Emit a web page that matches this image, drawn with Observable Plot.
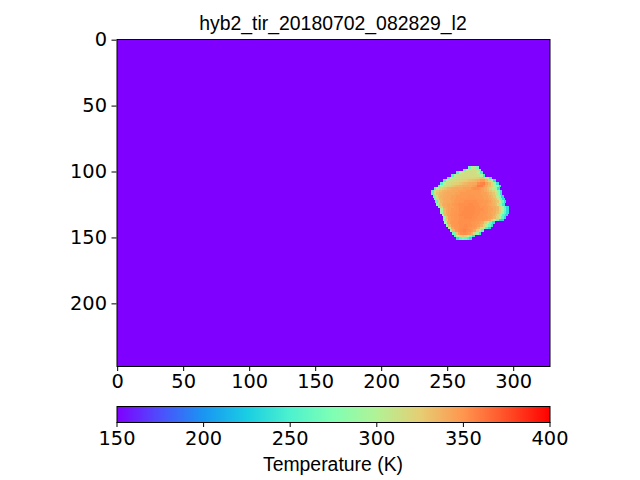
<!DOCTYPE html>
<html><head><meta charset="utf-8">
<script src="https://cdn.jsdelivr.net/npm/d3@7"></script>
<script src="https://cdn.jsdelivr.net/npm/@observablehq/plot@0.6"></script>
<style>
html,body{margin:0;padding:0;background:#fff;width:640px;height:480px;overflow:hidden}
#root{position:relative;width:640px;height:480px;font-family:"Liberation Sans",Arial,sans-serif;color:#000}
#root svg{position:absolute;left:0;background:transparent;max-width:none}
.t{position:absolute;left:0;white-space:nowrap;text-align:center}
</style></head><body><div id="root"></div>
<script>
const titleText = "hyb2_tir_20180702_082829_l2";
const barLabel = "Temperature (K)";
const imageWidth = 328, imageHeight = 248;
const skyTemperature = 150;
const xTicks = [0,50,100,150,200,250,300];
const yTicks = [0,50,100,150,200];
const barTicks = [150,200,250,300,350,400];
const rainbowStops = ["#8000ff","#4d4ffc","#1a96f2","#1acee3","#4df2ce","#80ffb4","#b3f296","#e6ce74","#ff964f","#ff4f28","#ff0000"];
const rainbowDomain = [150,175,200,225,250,275,300,325,350,375,400];

// Temperature readings of the asteroid: row (image y), first column (image x), then K every 2 image pixels.
const rowYs = [96,98,100,102,104,106,108,110,112,114,116,118,120,122,124,126,128,130,132,134,136,138,140,142,144,146,148,150];
const rowStarts = [266,262,257,253,250,247,245,243,240,238,238,239,240,241,242,243,245,245,246,247,247,248,249,251,252,254,255,257];
const rowTemps = [
[265,305,310,270],
[260,300,312,315,315,312,265],
[255,295,310,315,315,315,315,312,295,250],
[255,295,310,312,315,315,315,315,315,315,312,295,245],
[250,295,310,312,315,315,318,320,320,320,322,325,328,330,318,290,245],
[250,295,310,315,315,318,320,322,325,328,330,332,335,338,345,345,332,318,290,240],
[255,300,312,315,320,322,325,328,332,335,338,340,342,342,352,356,358,345,335,318,290,240],
[260,300,312,320,322,328,332,335,338,340,340,342,342,345,350,358,358,350,340,332,322,305,280,240],
[260,300,318,325,330,335,338,340,342,342,342,345,345,345,350,352,352,350,345,340,332,322,305,280,240],
[255,305,322,330,335,338,340,340,342,342,345,345,345,348,348,348,348,348,348,345,340,335,328,318,300,275,240],
[260,310,328,335,338,340,342,342,342,345,345,348,348,348,348,348,348,348,348,345,345,340,335,328,310,280,240],
[265,315,332,338,340,342,342,345,345,348,348,348,348,350,350,350,348,348,348,345,345,340,335,328,305,275,235],
[270,318,335,340,342,342,345,345,348,348,350,350,350,350,350,350,350,348,348,345,345,340,335,328,305,270,235],
[260,315,335,340,342,342,345,348,348,350,350,352,352,352,352,352,350,350,348,348,345,340,335,328,300,265,235],
[285,330,340,342,345,345,348,350,352,352,352,352,354,354,352,352,350,348,348,345,342,338,332,312,280,245],
[275,325,340,342,345,345,348,350,352,352,354,354,354,354,352,352,350,350,348,345,342,340,335,318,295,260,235],
[295,335,342,345,348,348,350,352,352,354,354,354,354,352,352,352,350,348,345,345,340,335,320,300,265,235],
[285,332,342,345,348,350,350,352,354,354,354,354,354,352,352,350,350,348,345,342,340,332,318,295,260,235],
[295,335,345,348,350,350,352,354,354,354,354,354,352,352,350,350,348,345,345,340,332,318,290,255,235],
[280,332,345,348,350,350,352,352,354,354,354,352,352,350,350,348,348,345,342,335,322,295,260,235],
[270,328,345,348,350,350,352,352,352,352,352,352,350,350,348,348,345,340,325,300,265,235,230],
[295,340,348,350,350,352,352,352,352,352,350,350,348,345,340,325,300,265,240],
[280,335,348,350,350,352,352,354,352,352,350,348,345,338,322,298,265,240],
[300,342,350,350,352,354,354,352,350,348,345,335,315,285,255,235],
[280,335,348,352,354,356,354,352,348,342,325,295,260],
[265,328,345,352,354,352,348,338,318,285,245],
[255,295,320,328,320,295,265,240],
[240,258,268,262,250,235]
];

// Fill the full image from the sky value and the asteroid rows read above.
const image = new Array(imageWidth * imageHeight).fill(skyTemperature);
rowYs.forEach((y, r) => rowTemps[r].forEach((t, c) => {
  const x = rowStarts[r] + c * 2;
  for (let dy = 0; dy < 2; dy++) for (let dx = 0; dx < 2; dx++) image[(y + dy) * imageWidth + x + dx] = t;
}));
const barSweep = d3.range(512).map(i => 150 + 250 * (i + 0.5) / 512);

const color = {type:"linear", domain:rainbowDomain, range:rainbowStops, interpolate:"rgb", clamp:true};
const root = document.getElementById("root");
const font = {fontFamily:'"Liberation Sans",Arial,sans-serif', background:"transparent", color:"#000"};
const tick = {fontSize:19.4, fontFamily:'"DejaVu Sans"', tickSize:5, tickFormat:d=>String(d), label:null};

const main = Plot.plot({
  width:640, height:395, marginTop:39, marginBottom:29, marginLeft:116.5, marginRight:90.5,
  style:font, color,
  x:{domain:[-0.5,327.5]}, y:{domain:[247.5,-0.5]},
  marks:[
    Plot.raster(image,{width:imageWidth,height:imageHeight,x1:-0.5,x2:327.5,y1:-0.5,y2:247.5,fill:d=>d,imageRendering:"pixelated"}),
    Plot.axisX({anchor:"bottom",ticks:xTicks,tickPadding:3,...tick}),
    Plot.axisY({anchor:"left",ticks:yTicks,tickPadding:5,...tick}),
    Plot.frame({stroke:"#000",strokeWidth:1})
  ]
});
main.style.top = "0px";
root.appendChild(main);

const bar = Plot.plot({
  width:640, height:65, marginTop:11, marginBottom:38, marginLeft:116.5, marginRight:90.5,
  style:font, color,
  x:{domain:[150,400]}, y:{domain:[0,1],axis:null},
  marks:[
    Plot.raster(barSweep,{width:512,height:1,x1:150,x2:400,y1:0,y2:1,fill:d=>d}),
    Plot.axisX({anchor:"bottom",ticks:barTicks,tickPadding:4,...tick}),
    Plot.frame({stroke:"#000",strokeWidth:1})
  ]
});
bar.style.top = "395px";
root.appendChild(bar);

function addText(text, cx, top, size){
  const d = document.createElement("div");
  d.className = "t"; d.textContent = text;
  d.style.cssText += `width:${cx*2}px;top:${top}px;font-size:${size}px;line-height:${size+2}px`;
  root.appendChild(d);
}
addText(titleText, 333, 13, 19.4);
addText(barLabel, 333, 454, 19.4);
</script></body></html>
